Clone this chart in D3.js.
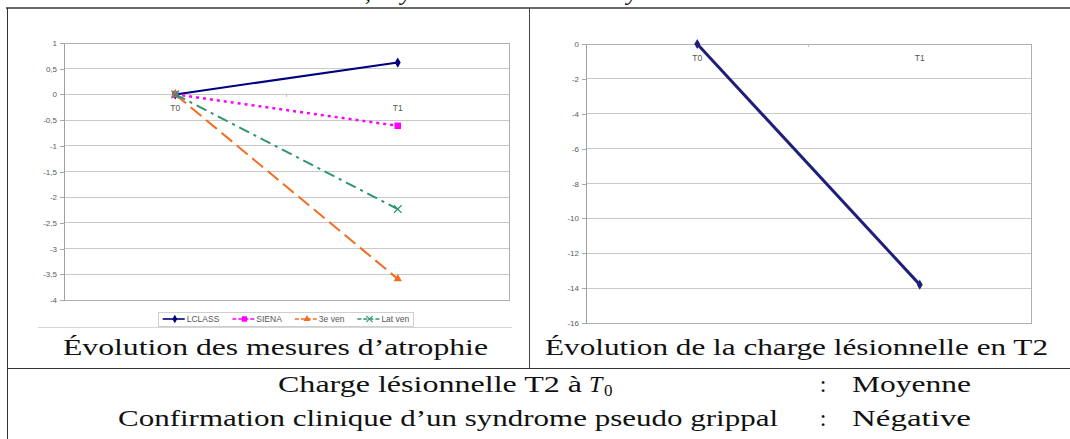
<!DOCTYPE html>
<html lang="fr">
<head>
<meta charset="utf-8">
<title>Évolution atrophie et charge lésionnelle</title>
<script src="https://cdn.jsdelivr.net/npm/d3@7"></script>
<style>
	body { margin: 0; background: #fff; }
	svg { display: block; }
	.latex { font-family: "Liberation Serif", "DejaVu Serif", serif; fill: #111; }
	.xl { font-family: "Liberation Sans", Arial, sans-serif; fill: #555; }
</style>
</head>
<body>
<svg id="page" width="1070" height="439"></svg>
<script>
// ---- data ----
const categories = ['T0', 'T1'];
const atrophyNames = ['LCLASS', 'SIENA', '3e ven', 'Lat ven'];
const lclassValues = [0, 0.62];
const sienaValues = [0, -0.61];
const ventricle3Values = [0, -3.59];
const latVentricleValues = [0, -2.23];
const atrophyTicks = [1, 0.5, 0, -0.5, -1, -1.5, -2, -2.5, -3, -3.5, -4];

const lesionValues = [0, -13.8];
const lesionTicks = [0, -2, -4, -6, -8, -10, -12, -14, -16];

const captions = ['Évolution des mesures d’atrophie', 'Évolution de la charge lésionnelle en T2'];
const rowLabels = ['Charge lésionnelle T2 à', 'Confirmation clinique d’un syndrome pseudo grippal'];
const rowValues = ['Moyenne', 'Négative'];

// excel style numbers: 0,5 and -1
const fmt = d3.formatLocale({decimal: ',', thousands: ' ', grouping: [3], currency: ['', ' €'], minus: '-'}).format('~g');

const symbolX = d3.symbolTimes || d3.symbolX;

class LineChart {
	constructor(_config, _data) {
		this.config = {
			parentElement: _config.parentElement,
			left: _config.left,
			top: _config.top,
			width: _config.width,
			height: _config.height,
			yDomain: _config.yDomain,
			yTicks: _config.yTicks,
			styles: _config.styles,
			legend: _config.legend || null
		}
		this.data = _data;
		this.initVis();
	}

	initVis() {
		let vis = this;

		vis.svg = d3.select(vis.config.parentElement);
		vis.g = vis.svg.append('g')
			.attr('transform', `translate(${vis.config.left},${vis.config.top})`);

		vis.xScale = d3.scalePoint()
			.domain(categories)
			.range([0, vis.config.width])
			.padding(0.5);

		vis.yScale = d3.scaleLinear()
			.domain(vis.config.yDomain)
			.range([vis.config.height, 0]);

		// gridlines
		vis.g.append('g')
			.attr('shape-rendering', 'crispEdges')
			.selectAll('line')
			.data(vis.config.yTicks)
			.join('line')
			.attr('x1', 0)
			.attr('x2', vis.config.width)
			.attr('y1', d => vis.yScale(d))
			.attr('y2', d => vis.yScale(d))
			.attr('stroke', '#c9c9c9');

		// plot area border
		vis.g.append('rect')
			.attr('width', vis.config.width)
			.attr('height', vis.config.height)
			.attr('fill', 'none')
			.attr('stroke', '#b0b0b0')
			.attr('shape-rendering', 'crispEdges');

		// value axis
		vis.yAxis = d3.axisLeft(vis.yScale)
			.tickValues(vis.config.yTicks)
			.tickSize(4)
			.tickSizeOuter(0)
			.tickPadding(3)
			.tickFormat(fmt);

		vis.yAxisG = vis.g.append('g')
			.attr('shape-rendering', 'crispEdges')
			.call(vis.yAxis);
		vis.yAxisG.select('.domain').attr('fill', 'none').attr('stroke', '#a0a0a0').attr('stroke-width', 1.5);
		vis.yAxisG.selectAll('.tick line').attr('stroke', '#a8a8a8');
		vis.yAxisG.selectAll('text')
			.attr('fill', '#5a5a5a')
			.style('font-size', '8px')
			.style('font-family', '"Liberation Sans", Arial, sans-serif');

		// category axis crosses at 0
		vis.y0 = vis.yScale(0);
		vis.g.append('g')
			.attr('shape-rendering', 'crispEdges')
			.selectAll('line')
			.data([vis.config.width / 2])
			.join('line')
			.attr('x1', d => d).attr('x2', d => d)
			.attr('y1', vis.y0).attr('y2', vis.y0 + 3)
			.attr('stroke', '#c0c0c0');

		vis.g.append('g')
			.selectAll('text')
			.data(categories)
			.join('text')
			.attr('class', 'xl')
			.attr('x', d => vis.xScale(d))
			.attr('y', vis.y0 + 17)
			.attr('text-anchor', 'middle')
			.attr('fill', '#5a5a5a')
			.style('font-size', '8.5px')
			.text(d => d);

		vis.line = d3.line()
			.x((d, i) => vis.xScale(categories[i]))
			.y(d => vis.yScale(d));

		vis.updateVis();
	}

	updateVis() {
		let vis = this;

		vis.series = vis.g.append('g')
			.selectAll('g')
			.data(vis.data)
			.join('g');

		vis.series.append('path')
			.attr('d', d => vis.line(d.values))
			.attr('fill', 'none')
			.attr('stroke', (d, i) => vis.config.styles[i].color)
			.attr('stroke-width', (d, i) => vis.config.styles[i].width)
			.attr('stroke-dasharray', (d, i) => vis.config.styles[i].dash);

		vis.series.each(function(d, i) {
			const st = vis.config.styles[i];
			d3.select(this).selectAll('path.marker')
				.data(d.values)
				.join('path')
				.attr('class', 'marker')
				.attr('transform', (v, j) => `translate(${vis.xScale(categories[j])},${vis.yScale(v)})`)
				.attr('d', d3.symbol().type(st.symbol).size(st.size))
				.attr('fill', st.stroke ? 'none' : st.color)
				.attr('stroke', st.stroke ? st.color : 'none')
				.attr('stroke-width', st.stroke ? 1.3 : 0);
		});

		if (vis.config.legend) vis.renderLegend();
	}

	renderLegend() {
		let vis = this;
		const lg = vis.config.legend;

		vis.legend = vis.svg.append('g');
		vis.legendBox = vis.legend.append('rect')
			.attr('fill', '#fff')
			.attr('stroke', '#cfcfcf')
			.attr('shape-rendering', 'crispEdges');

		let x = 0;
		vis.data.forEach((d, i) => {
			const st = vis.config.styles[i];
			const item = vis.legend.append('g').attr('transform', `translate(${x},0)`);
			item.append('line')
				.attr('x1', 0).attr('x2', lg.sample)
				.attr('stroke', st.color)
				.attr('stroke-width', 1.6)
				.attr('stroke-dasharray', st.dash ? '4,2' : null);
			item.append('path')
				.attr('transform', `translate(${lg.sample * 0.55},0)`)
				.attr('d', d3.symbol().type(st.symbol).size(st.size * 0.7))
				.attr('fill', st.stroke ? 'none' : st.color)
				.attr('stroke', st.stroke ? st.color : 'none')
				.attr('stroke-width', st.stroke ? 1.1 : 0);
			const t = item.append('text')
				.attr('class', 'xl')
				.attr('x', lg.sample + 2)
				.attr('y', 3)
				.attr('fill', '#5a5a5a')
				.style('font-size', '8.5px')
				.text(d.name);
			x += lg.sample + 2 + t.node().getComputedTextLength() + lg.gap;
		});
		const total = x - lg.gap;
		vis.legend.attr('transform', `translate(${lg.cx - total / 2},${lg.cy})`);
		vis.legendBox
			.attr('x', -4).attr('y', -7)
			.attr('width', total + 8).attr('height', 14);
	}
}

const svg = d3.select('#page');

// fragments of the line above the table (cut off at the top)
svg.append('g')
	.selectAll('text')
	.data([',', 'y', 'y'])
	.join('text')
	.attr('class', 'latex')
	.attr('x', (d, i) => [365, 401, 627][i])
	.attr('y', 0)
	.style('font-size', '24px')
	.style('font-style', 'italic')
	.text(d => d);

// excel chart bottom edge
svg.append('line')
	.attr('x1', 38).attr('x2', 512)
	.attr('y1', 327.5).attr('y2', 327.5)
	.attr('stroke', '#d6d6d6');

const atrophyChart = new LineChart({
	parentElement: '#page',
	left: 64, top: 43, width: 445, height: 257,
	yDomain: [-4, 1],
	yTicks: atrophyTicks,
	styles: [
		{color: '#000080', dash: null, symbol: d3.symbolDiamond, size: 30, width: 2},
		{color: '#ff00ff', dash: '3,4', symbol: d3.symbolSquare, size: 42, width: 2.5},
		{color: '#f36d21', dash: '14,6', symbol: d3.symbolTriangle, size: 30, width: 2},
		{color: '#2f9472', dash: '11,5,3,5', symbol: symbolX, size: 40, width: 2, stroke: true}
	],
	legend: {cx: 286, cy: 319, sample: 22, gap: 13}
}, [
	{name: atrophyNames[0], values: lclassValues},
	{name: atrophyNames[1], values: sienaValues},
	{name: atrophyNames[2], values: ventricle3Values},
	{name: atrophyNames[3], values: latVentricleValues}
]);

const lesionChart = new LineChart({
	parentElement: '#page',
	left: 586, top: 44, width: 445, height: 279,
	yDomain: [-16, 0],
	yTicks: lesionTicks,
	styles: [
		{color: '#1f1f7a', dash: null, symbol: d3.symbolDiamond, size: 30, width: 3}
	]
}, [
	{name: 'T2', values: lesionValues}
]);

// ---- LaTeX table around the charts ----
const rules = svg.append('g').attr('shape-rendering', 'crispEdges');
rules.append('line').attr('x1', 6).attr('x2', 1070).attr('y1', 8).attr('y2', 8)
	.attr('stroke', '#6a6a6a').attr('stroke-width', 2);
rules.append('line').attr('x1', 7).attr('x2', 7).attr('y1', 8).attr('y2', 439)
	.attr('stroke', '#333');
rules.append('line').attr('x1', 529).attr('x2', 529).attr('y1', 8).attr('y2', 368)
	.attr('stroke', '#444');
rules.append('line').attr('x1', 7).attr('x2', 1070).attr('y1', 368).attr('y2', 368)
	.attr('stroke', '#333');

function fitText(sel, x0, x1) {
	sel.attr('x', x0)
		.attr('textLength', x1 - x0)
		.attr('lengthAdjust', 'spacingAndGlyphs');
	return sel;
}

const captionSpans = [[63, 488], [545, 1048]];
captions.forEach((c, i) => {
	fitText(svg.append('text').attr('class', 'latex')
		.attr('y', 355).style('font-size', '24px').text(c), captionSpans[i][0], captionSpans[i][1]);
});

const rowY = [392, 426];
const rowSpans = [[278, 582], [118, 778]];
rowLabels.forEach((r, i) => {
	fitText(svg.append('text').attr('class', 'latex')
		.attr('y', rowY[i]).style('font-size', '24px').text(r), rowSpans[i][0], rowSpans[i][1]);
	svg.append('text').attr('class', 'latex')
		.attr('x', 823).attr('y', rowY[i])
		.attr('text-anchor', 'middle')
		.style('font-size', '24px')
		.text(':');
	fitText(svg.append('text').attr('class', 'latex')
		.attr('y', rowY[i]).style('font-size', '24px').text(rowValues[i]), 852, 971);
});

// italic T with subscript 0
svg.append('text').attr('class', 'latex')
	.attr('x', 589).attr('y', rowY[0])
	.style('font-size', '24px').style('font-style', 'italic')
	.text('T');
svg.append('text').attr('class', 'latex')
	.attr('x', 604).attr('y', rowY[0] + 4)
	.style('font-size', '17px')
	.text('0');
</script>
</body>
</html>
